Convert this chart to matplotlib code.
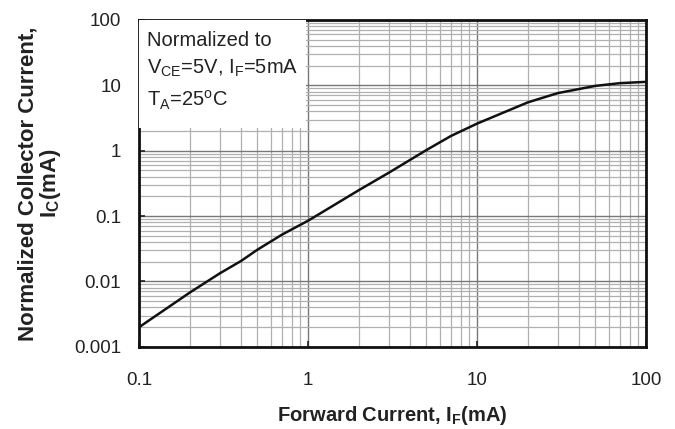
import matplotlib
matplotlib.use("Agg")
import matplotlib.pyplot as plt
from matplotlib.patches import Rectangle
from matplotlib.ticker import FixedLocator, FixedFormatter, LogLocator, NullFormatter

# 読み取った値 (Forward Current vs Normalized Collector Current)
if_ma = [0.1, 0.2, 0.3, 0.4, 0.5, 0.7, 1, 2, 3, 4, 5, 7, 10, 20, 30, 50, 70, 100]
ic_norm = [0.002, 0.0068, 0.0133, 0.0205, 0.0305, 0.052, 0.085, 0.25, 0.46,
           0.72, 1.02, 1.68, 2.6, 5.5, 7.6, 9.8, 10.8, 11.3]

x_ticks = [0.1, 1, 10, 100]
x_labels = ["0.1", "1", "10", "100"]
y_ticks = [0.001, 0.01, 0.1, 1, 10, 100]
y_labels = ["0.001", "0.01", "0.1", "1", "10", "100"]

plt.rcParams["font.family"] = ["Liberation Sans", "DejaVu Sans"]
plt.rcParams["mathtext.fontset"] = "custom"
plt.rcParams["mathtext.rm"] = "Liberation Sans"
plt.rcParams["mathtext.bf"] = "Liberation Sans:bold"

fig = plt.figure(figsize=(6.75, 4.29), dpi=100)
ax = fig.add_axes([0.2064, 0.1918, 0.7507, 0.7616])

ax.set_xscale("log")
ax.set_yscale("log")
ax.set_xlim(0.1, 100)
ax.set_ylim(0.001, 100)

ax.plot(if_ma, ic_norm, color="#111111", lw=1.8, zorder=4)

# グリッド
ax.xaxis.set_minor_locator(LogLocator(base=10, subs=range(2, 10)))
ax.yaxis.set_minor_locator(LogLocator(base=10, subs=range(2, 10)))
ax.xaxis.set_minor_formatter(NullFormatter())
ax.yaxis.set_minor_formatter(NullFormatter())
ax.grid(True, which="major", color="#777777", lw=1.0)
ax.grid(True, which="minor", color="#b0b0b0", lw=0.9)

ax.xaxis.set_major_locator(FixedLocator(x_ticks))
ax.xaxis.set_major_formatter(FixedFormatter(x_labels))
ax.yaxis.set_major_locator(FixedLocator(y_ticks))
ax.yaxis.set_major_formatter(FixedFormatter(y_labels))
ax.tick_params(which="major", direction="in", length=4, width=1.2, labelsize=13.5,
               colors="#222222")
ax.tick_params(axis="x", which="major", pad=18)
ax.tick_params(axis="y", which="major", pad=13)
ax.tick_params(which="minor", length=0)

for s in ax.spines.values():
    s.set_linewidth(2)
    s.set_color("#111111")

# 注記ボックス
ax.add_patch(Rectangle((0, 0.669), 0.328, 0.331, transform=ax.transAxes,
                       facecolor="white", edgecolor="none", zorder=3))
ax.text(0.015, 0.936, "Normalized to", transform=ax.transAxes, fontsize=14.5,
        color="#222222", va="center", zorder=5)
ax.text(0.015, 0.853, r"V$_{\rm CE}$=5V, I$_{\rm F}$=5mA", transform=ax.transAxes,
        fontsize=14.5, color="#222222", va="center", zorder=5)
ax.text(0.015, 0.755, r"T$_{\rm A}$=25$^{\rm o}$C", transform=ax.transAxes,
        fontsize=14.5, color="#222222", va="center", zorder=5)

ax.set_xlabel(r"Forward Current, I$_{\mathbf{F}}$(mA)", fontsize=14.5,
              fontweight="bold", color="#222222", labelpad=11)
ax.set_ylabel("Normalized Collector Current,\n" + r"I$_{\mathbf{C}}$(mA)",
              fontsize=16, fontweight="bold", color="#222222", labelpad=8,
              linespacing=1.0)

fig.savefig("out.png", dpi=100)
